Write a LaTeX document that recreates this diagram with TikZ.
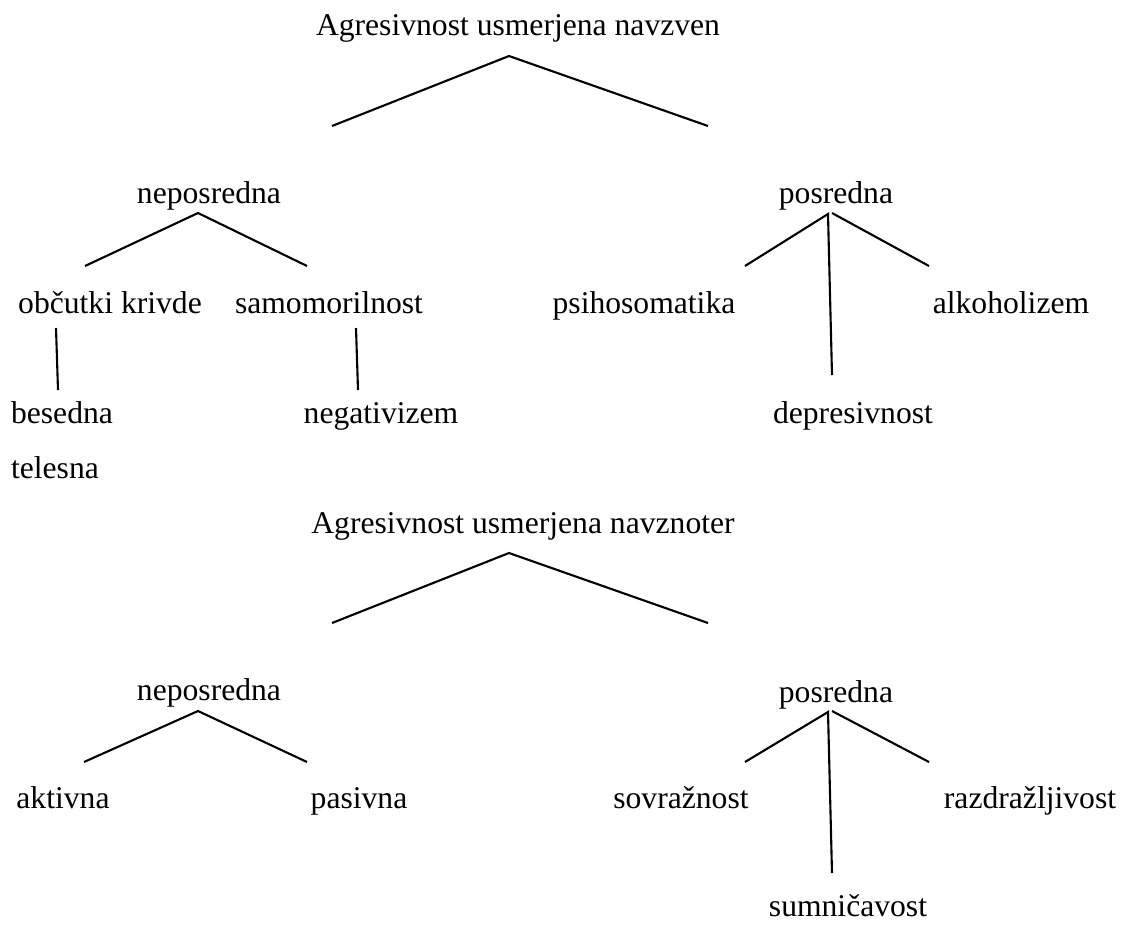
\documentclass[tikz,border=0pt]{standalone}
\usepackage{fontspec}
\setmainfont{Liberation Serif}
\begin{document}
\begin{tikzpicture}[x=0.02cm, y=-0.02cm, line width=1.2pt,
    lbl/.style={anchor=base, inner sep=0pt, font=\fontsize{18}{22}\selectfont}]
\useasboundingbox (0,0) rectangle (1139,924);

% Agresivnost usmerjena navzven
\node[lbl] (out) at (518,35) {Agresivnost usmerjena navzven};
\node[lbl] (nepA) at (209,203) {neposredna};
\node[lbl] (posA) at (836,203) {posredna};
\node[lbl] (obc) at (110,313) {občutki krivde};
\node[lbl] (sam) at (329,313) {samomorilnost};
\node[lbl] (psi) at (644,313) {psihosomatika};
\node[lbl] (alk) at (1011,313) {alkoholizem};
\node[lbl, anchor=base west] (bes) at (10,423) {besedna};
\node[lbl, anchor=base west] (tel) at (10,478) {telesna};
\node[lbl] (neg) at (381,423) {negativizem};
\node[lbl] (dep) at (853,423) {depresivnost};

\coordinate (outT) at (509,56);
\coordinate (outL) at (332,126);
\coordinate (outR) at (708,126);
\coordinate (nepAT) at (198,213);
\coordinate (nepAL) at (85,266);
\coordinate (nepAR) at (307,266);
\coordinate (posAT) at (828,214);
\coordinate (posAT2) at (832,213);
\coordinate (posAL) at (745,266);
\coordinate (posAR) at (929,266);
\coordinate (posAB) at (832,375);
\coordinate (obcT) at (56,328);
\coordinate (obcB) at (58,390);
\coordinate (samT) at (356,328);
\coordinate (samB) at (358,390);

\draw (outL) -- (outT) -- (outR);
\draw (nepAL) -- (nepAT) -- (nepAR);
\draw (posAL) -- (posAT) -- (posAB);
\draw (posAT2) -- (posAR);
\draw (obcT) -- (obcB);
\draw (samT) -- (samB);

% Agresivnost usmerjena navznoter
\node[lbl] (in) at (523,533) {Agresivnost usmerjena navznoter};
\node[lbl] (nepB) at (209,700) {neposredna};
\node[lbl] (posB) at (836,702) {posredna};
\node[lbl] (akt) at (63,808) {aktivna};
\node[lbl] (pas) at (359,808) {pasivna};
\node[lbl] (sov) at (681,808) {sovražnost};
\node[lbl] (raz) at (1030,808) {razdražljivost};
\node[lbl] (sum) at (848,916) {sumničavost};

\coordinate (inT) at (509,553);
\coordinate (inL) at (332,623);
\coordinate (inR) at (708,623);
\coordinate (nepBT) at (198,711);
\coordinate (nepBL) at (84,762);
\coordinate (nepBR) at (307,762);
\coordinate (posBT) at (828,712);
\coordinate (posBT2) at (832,711);
\coordinate (posBL) at (745,762);
\coordinate (posBR) at (929,762);
\coordinate (posBB) at (832,873);

\draw (inL) -- (inT) -- (inR);
\draw (nepBL) -- (nepBT) -- (nepBR);
\draw (posBL) -- (posBT) -- (posBB);
\draw (posBT2) -- (posBR);
\end{tikzpicture}
\end{document}
